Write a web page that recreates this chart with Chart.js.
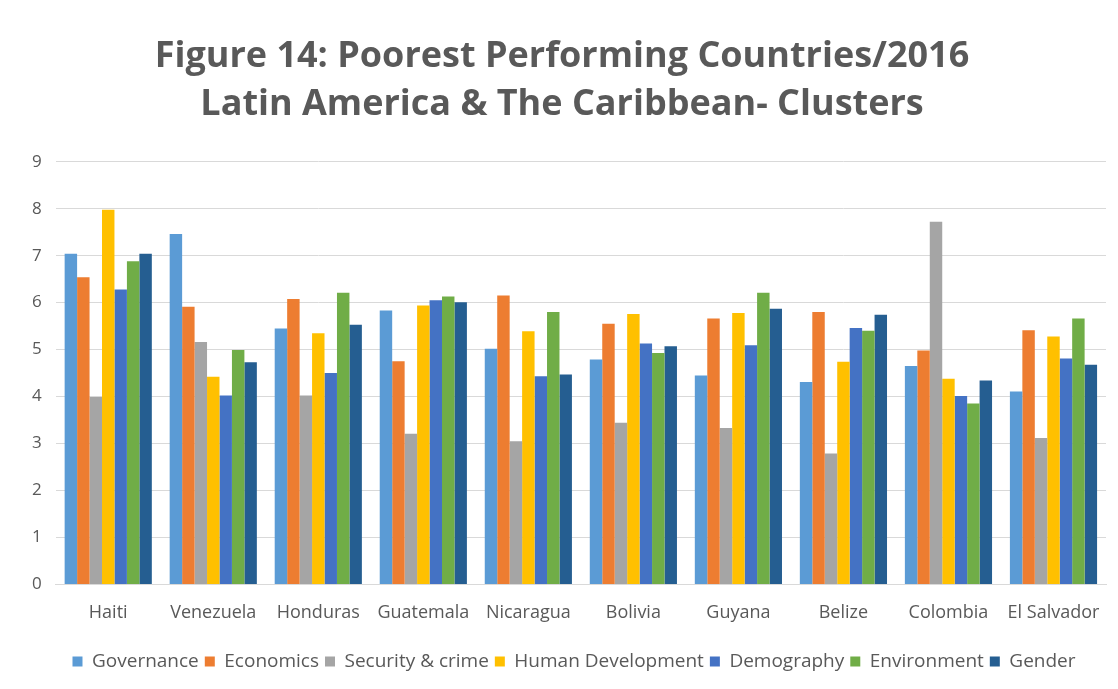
<!DOCTYPE html>
<html>
<head>
<meta charset="utf-8">
<script src="https://cdn.jsdelivr.net/npm/chart.js@4.4.1/dist/chart.umd.min.js"></script>
<style>
  html, body { margin: 0; padding: 0; background: #ffffff; }
  #wrap { width: 1118px; height: 689px; }
</style>
</head>
<body>
<div id="wrap"><canvas id="chart" width="1118" height="689"></canvas></div>
<script>
// categories and series scores
var countries = ["Haiti", "Venezuela", "Honduras", "Guatemala", "Nicaragua", "Bolivia", "Guyana", "Belize", "Colombia", "El Salvador"];
var governance  = [7.04, 7.46, 5.45, 5.83, 5.02, 4.79, 4.45, 4.31, 4.65, 4.11];
var economics   = [6.54, 5.91, 6.08, 4.75, 6.15, 5.55, 5.66, 5.80, 4.98, 5.41];
var security    = [3.99, 5.16, 4.02, 3.21, 3.05, 3.44, 3.33, 2.79, 7.72, 3.12];
var humanDev    = [7.98, 4.42, 5.35, 5.94, 5.39, 5.76, 5.78, 4.74, 4.38, 5.28];
var demography  = [6.28, 4.02, 4.50, 6.05, 4.43, 5.13, 5.09, 5.46, 4.01, 4.81];
var environment = [6.88, 4.99, 6.21, 6.13, 5.80, 4.93, 6.21, 5.40, 3.85, 5.66];
var gender      = [7.04, 4.73, 5.53, 6.01, 4.47, 5.07, 5.87, 5.74, 4.34, 4.68];
var yTicks = [0, 1, 2, 3, 4, 5, 6, 7, 8, 9];

var textColor = "#595959";
var font = "'Open Sans', Lato, sans-serif";

function series( label, data, color ) {
	return { label: label, data: data, backgroundColor: color, borderWidth: 0 };
}

// nudge the legend row a little to the right of the default centre
var legendShift = {
	id: "legendShift",
	afterLayout: function( chart ) {
		chart.legend.left += 12;
		chart.legend.right += 12;
	}
};

new Chart( document.getElementById( "chart" ), {
	type: "bar",
	data: {
		labels: countries,
		datasets: [
			series( "Governance", governance, "#5B9BD5" ),
			series( "Economics", economics, "#ED7D31" ),
			series( "Security & crime", security, "#A5A5A5" ),
			series( "Human Development", humanDev, "#FFC000" ),
			series( "Demography", demography, "#4472C4" ),
			series( "Environment", environment, "#70AD47" ),
			series( "Gender", gender, "#255E91" )
		]
	},
	plugins: [legendShift],
	options: {
		responsive: false,
		animation: false,
		layout: { padding: { left: 18, right: 12, top: 33, bottom: 8 } },
		datasets: { bar: { barPercentage: 1.0, categoryPercentage: 0.83 } },
		plugins: {
			title: {
				display: true,
				text: ["Figure 14: Poorest Performing Countries/2016", "Latin America & The Caribbean- Clusters"],
				color: textColor,
				font: { family: font, size: 36, weight: "bold", lineHeight: 1.33 },
				padding: { top: 0, bottom: 33 }
			},
			legend: {
				position: "bottom",
				labels: {
					color: textColor,
					font: { family: font, size: 19 },
					boxWidth: 10,
					boxHeight: 10,
					padding: 6
				}
			},
			tooltip: { enabled: false }
		},
		scales: {
			x: {
				afterFit: function( axis ) { axis.height += 12; },
				grid: { display: false },
				border: { color: "#d9d9d9" },
				ticks: { color: textColor, font: { family: font, size: 18 }, padding: 10 }
			},
			y: {
				min: 0,
				max: 9,
				afterBuildTicks: function( axis ) {
					axis.ticks = yTicks.map( function( v ) { return { value: v }; } );
				},
				grid: { color: "#d9d9d9", drawTicks: false },
				border: { display: false },
				ticks: { color: textColor, font: { family: font, size: 17 }, padding: 14 }
			}
		}
	}
} );
</script>
</body>
</html>
